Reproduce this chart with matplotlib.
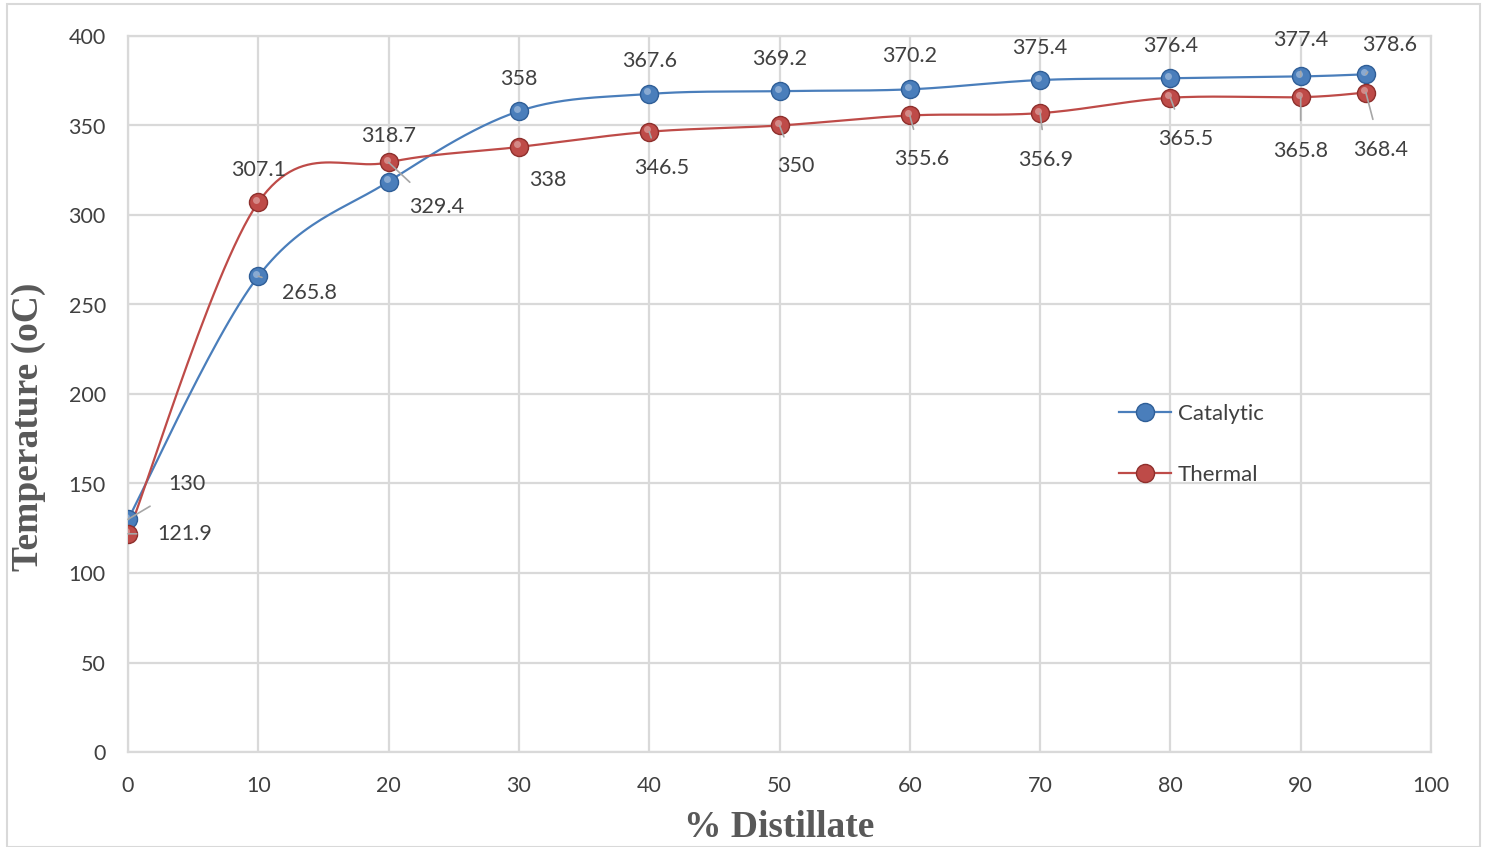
import numpy as np
import matplotlib
matplotlib.use("Agg")
import matplotlib.pyplot as plt
from matplotlib.patches import Rectangle

# ---- data ----
distillate = [0, 10, 20, 30, 40, 50, 60, 70, 80, 90, 95]
catalytic = [130, 265.8, 318.7, 358, 367.6, 369.2, 370.2, 375.4, 376.4, 377.4, 378.6]
thermal = [121.9, 307.1, 329.4, 338, 346.5, 350, 355.6, 356.9, 365.5, 365.8, 368.4]
series_names = ["Catalytic", "Thermal"]
x_ticks = [0, 10, 20, 30, 40, 50, 60, 70, 80, 90, 100]
y_ticks = [0, 50, 100, 150, 200, 250, 300, 350, 400]

# label offsets (pixels) and leader-line flags
cat_offsets = [(59, 35), (51, -17), (0, 46), (0, 32), (0, 33), (0, 32), (0, 33), (0, 32), (0, 32), (0, 36), (24, 29)]
cat_leader = [True, True, False, False, False, False, False, False, False, True, True]
th_offsets = [(57, 0), (0, 32), (48, -45), (29, -33), (12, -36), (16, -41), (12, -44), (6, -47), (15, -41), (0, -54), (15, -57)]
th_leader = [True, False, True, False, True, True, True, True, True, True, True]

BLUE = "#4A7EBB"
RED = "#BE4B48"
GRID = "#D9D9D9"
TXT = "#404040"

plt.rcParams['font.family'] = ['Lato', 'DejaVu Sans']


def smooth(x, y, n=30):
    x = np.asarray(x, float)
    y = np.asarray(y, float)
    xs, ys = [], []
    N = len(x)
    for i in range(N - 1):
        p0 = np.array([x[max(i - 1, 0)], y[max(i - 1, 0)]])
        p1 = np.array([x[i], y[i]])
        p2 = np.array([x[i + 1], y[i + 1]])
        p3 = np.array([x[min(i + 2, N - 1)], y[min(i + 2, N - 1)]])
        c1 = p1 + (p2 - p0) / 6.0
        c2 = p2 - (p3 - p1) / 6.0
        t = np.linspace(0, 1, n)[:, None]
        pts = ((1 - t) ** 3) * p1 + 3 * ((1 - t) ** 2) * t * c1 + 3 * (1 - t) * t ** 2 * c2 + t ** 3 * p2
        xs.append(pts[:, 0])
        ys.append(pts[:, 1])
    return np.concatenate(xs), np.concatenate(ys)


fig = plt.figure(figsize=(14.85, 8.47), dpi=100)
fig.patches.append(Rectangle((7 / 1485, 0.0), 1473 / 1485, 843 / 847, transform=fig.transFigure,
                             fill=False, edgecolor=GRID, linewidth=1.5))
ax = fig.add_axes([128 / 1485, (847 - 752) / 847, (1431 - 128) / 1485, (752 - 36) / 847])

ax.set_xlim(0, 100)
ax.set_ylim(0, 400)
ax.set_xticks(x_ticks)
ax.set_yticks(y_ticks)
ax.grid(True, color=GRID, linewidth=1.6)
ax.set_axisbelow(True)
for s in ax.spines.values():
    s.set_color(GRID)
    s.set_linewidth(1.6)
ax.tick_params(axis='both', length=0, labelsize=15.5, labelcolor=TXT)
ax.tick_params(axis='x', pad=17)
ax.tick_params(axis='y', pad=16)


def draw_series(y, color, edge, name, offsets, leaders):
    sx, sy = smooth(distillate, y)
    ax.plot(sx, sy, color=color, linewidth=1.6, zorder=3)
    ax.plot(distillate, y, linestyle='none', marker='o', markersize=13, markerfacecolor=color,
            markeredgecolor=edge, markeredgewidth=1.0, zorder=5)
    ax.plot(distillate, y, linestyle='none', marker='o', markersize=5,
            markerfacecolor='white', markeredgewidth=0, alpha=0.35, zorder=6,
            transform=ax.transData + matplotlib.transforms.ScaledTranslation(-2 / 100, 2.5 / 100, fig.dpi_scale_trans))
    ax.plot([], [], color=color, linewidth=1.6, marker='o', markersize=13, markerfacecolor=color,
            markeredgecolor=edge, label=name)
    for xv, yv, (dx, dy), ld in zip(distillate, y, offsets, leaders):
        ax.annotate(f"{yv:g}", (xv, yv), xytext=(dx, dy), textcoords='offset pixels',
                    ha='center', va='center', fontsize=15.5, color=TXT, zorder=7,
                    arrowprops=dict(arrowstyle='-', color='#A6A6A6', lw=1.2, shrinkA=13, shrinkB=0) if ld else None)


draw_series(catalytic, BLUE, "#2F5E97", series_names[0], cat_offsets, cat_leader)
draw_series(thermal, RED, "#8E2F2C", series_names[1], th_offsets, th_leader)

leg = ax.legend(loc='upper left', bbox_to_anchor=((1112 - 128) / 1303, (752 - 397) / 716), frameon=False,
                fontsize=16, labelspacing=1.85, handlelength=2.35, handletextpad=0.3, borderaxespad=0.0,
                borderpad=0.3)
for t in leg.get_texts():
    t.set_color(TXT)

ax.set_xlabel("% Distillate", family='Liberation Serif', fontweight='bold', fontsize=27, color='#595959', labelpad=10)
ax.set_ylabel("Temperature (oC)", family='Liberation Serif', fontweight='bold', fontsize=27, color='#595959')
ax.yaxis.set_label_coords((46 - 128) / 1303, (752 - 427) / 716)

fig.savefig("out.png", dpi=100)
